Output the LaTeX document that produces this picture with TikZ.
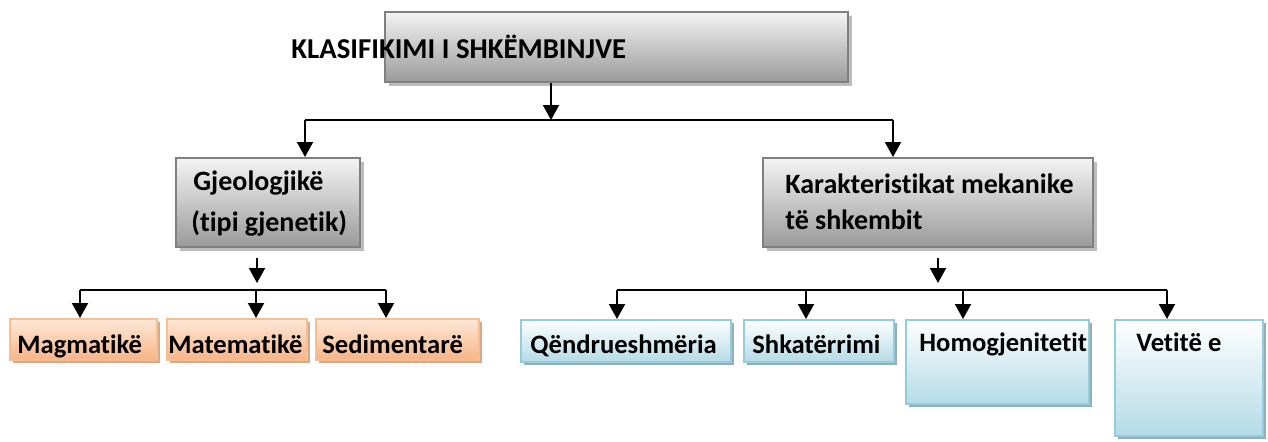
\documentclass[tikz,border=0pt]{standalone}
\usepackage{fontspec}
\setmainfont[Ligatures=NoCommon]{Carlito}
\usetikzlibrary{arrows.meta, positioning, fit, shadows}
\definecolor{grayline}{HTML}{808080}
\definecolor{graytop}{HTML}{F4F4F4}
\definecolor{graybot}{HTML}{9A9A9A}
\definecolor{grayshade}{HTML}{BDBDBD}
\definecolor{orline}{HTML}{F7BE92}
\definecolor{ortop}{HTML}{FDE9DA}
\definecolor{orbot}{HTML}{F8B486}
\definecolor{orshade}{HTML}{D2AA8E}
\definecolor{blline}{HTML}{93CDDC}
\definecolor{bltop}{HTML}{FFFFFF}
\definecolor{blbot}{HTML}{B4DBE6}
\definecolor{blshade}{HTML}{97ADB3}

\begin{document}
\begin{tikzpicture}[x=0.5pt,y=-0.5pt,>={Triangle[width=8pt,length=7.5pt]},
    txt/.style={inner sep=0pt,anchor=base west,font=\fontsize{14}{17}\selectfont\bfseries},
    small/.style={txt,font=\fontsize{13.3}{16}\selectfont\bfseries},
    box/.style={inner sep=0pt,line width=1pt},
    graybox/.style={box,draw=grayline,top color=graytop,bottom color=graybot,
      drop shadow={shadow xshift=2pt,shadow yshift=-2pt,fill=grayshade,opacity=1}},
    orbox/.style={box,draw=orline,top color=ortop,bottom color=orbot,
      drop shadow={shadow xshift=1.5pt,shadow yshift=-1.5pt,fill=orshade,opacity=1}},
    blbox/.style={box,draw=blline,top color=bltop,bottom color=blbot,
      drop shadow={shadow xshift=1.5pt,shadow yshift=-1.5pt,fill=blshade,opacity=1}},
    arr/.style={->,line width=1pt},
    bus/.style={line width=1pt}]
  \useasboundingbox (0,0) rectangle (1268,441);

  % boxes
  \node[graybox,fit={(385,12) (848,82)}] (root) {};
  \node[graybox,fit={(176,158) (360,247)}] (geo) {};
  \node[graybox,fit={(763,158) (1093,247)}] (kar) {};
  \node[orbox,fit={(10,319) (157,360)}] (mag) {};
  \node[orbox,fit={(167,319) (307,360)}] (mat) {};
  \node[orbox,fit={(316,319) (479,360)}] (sed) {};
  \node[blbox,fit={(521,320) (731,362)}] (qen) {};
  \node[blbox,fit={(744,320) (894,362)}] (shk) {};
  \node[blbox,fit={(906,320) (1089,404)}] (hom) {};
  \node[blbox,fit={(1115,320) (1263,436)}] (vet) {};

  % texts
  \node[txt,font=\fontsize{14.4}{17}\selectfont\bfseries] (roottxt) at (291,58) {KLASIFIKIMI I SHKËMBINJVE};
  \node[txt] (geotxt) at (193,190) {Gjeologjikë};
  \node[txt] (geotxt2) at (191,231) {(tipi gjenetik)};
  \node[txt] (kartxt) at (785,193) {Karakteristikat mekanike};
  \node[txt] (kartxt2) at (785,229) {të shkembit};
  \node[small] (magtxt) at (17,353) {Magmatikë};
  \node[small] (mattxt) at (168,353) {Matematikë};
  \node[small] (sedtxt) at (322,353) {Sedimentarë};
  \node[small] (qentxt) at (530,353) {Qëndrueshmëria};
  \node[small] (shktxt) at (752,353) {Shkatërrimi};
  \node[small] (homtxt) at (919,351) {Homogjenitetit};
  \node[small] (vettxt) at (1136,351) {Vetitë e};

  % connectors
  \coordinate (split) at (551,120);
  \coordinate (gsplit) at (305,120);
  \coordinate (ksplit) at (893,120);
  \draw[arr] (root.south -| split) -- (split);
  \draw[bus] (gsplit) -- (ksplit);
  \draw[arr] (gsplit) -- (gsplit |- geo.north);
  \draw[arr] (ksplit) -- (ksplit |- kar.north);

  \coordinate (gstub) at (257,258);
  \coordinate (gl) at (80,290);
  \coordinate (gr) at (386,290);
  \draw[arr,shorten >=3.5pt] (gstub) -- (gstub |- gl);
  \draw[bus] (gl) -- (gr);
  \foreach \x/\b in {80/mag,256/mat,386/sed}{
    \coordinate (\b top) at (\x,290);
    \draw[arr] (\b top) -- (\b top |- \b.north);
  }

  \coordinate (kstub) at (938,258);
  \coordinate (kl) at (617,290);
  \coordinate (kr) at (1167,290);
  \draw[arr,shorten >=3.5pt] (kstub) -- (kstub |- kl);
  \draw[bus] (kl) -- (kr);
  \foreach \x/\b in {617/qen,806/shk,963/hom,1167/vet}{
    \coordinate (\b top) at (\x,290);
    \draw[arr] (\b top) -- (\b top |- \b.north);
  }
\end{tikzpicture}
\end{document}
